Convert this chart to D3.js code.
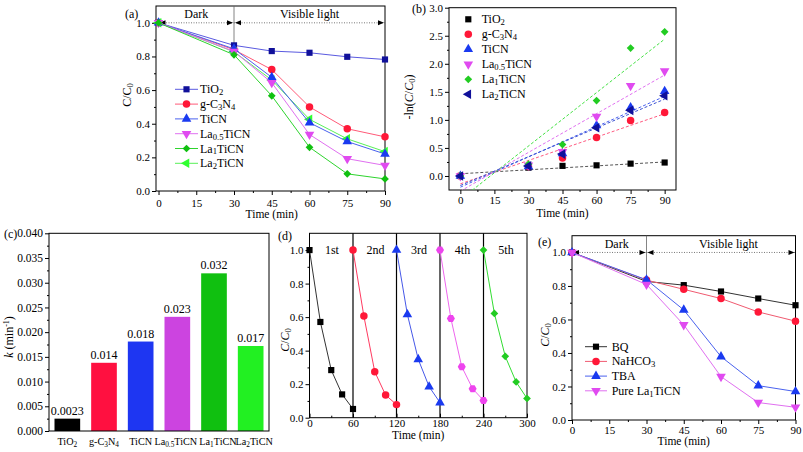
<!DOCTYPE html>
<html><head><meta charset="utf-8">
<script src="https://cdn.jsdelivr.net/npm/d3@7"></script>
<style>body{margin:0;background:#fff}svg{display:block;background:#fff}
text,tspan{font-family:"Liberation Serif","Times New Roman",serif}</style>
</head><body><svg id="c" width="803" height="452"></svg>
<script>
// ---------- DATA ----------
// Panel (a): C/C0 vs time
const timeA = [0, 30, 45, 60, 75, 90];
const namesA = ["TiO2", "g-C3N4", "TiCN", "La0.5TiCN", "La1TiCN", "La2TiCN"];
const tio2A  = [1.0, 0.866, 0.832, 0.822, 0.798, 0.782];
const gc3n4A = [1.0, 0.840, 0.722, 0.500, 0.370, 0.322];
const ticnA  = [1.0, 0.845, 0.676, 0.406, 0.294, 0.220];
const la05A  = [1.0, 0.830, 0.644, 0.336, 0.192, 0.152];
const la1A   = [1.0, 0.810, 0.566, 0.260, 0.102, 0.072];
const la2A   = [1.0, 0.828, 0.660, 0.426, 0.310, 0.234];

// Panel (b): -ln(C/C0) vs time, with linear fits (endpoints)
const timeB  = [0, 30, 45, 60, 75, 90];
const tio2B  = [0, 0.15, 0.18, 0.19, 0.22, 0.24];
const gc3n4B = [0, 0.17, 0.32, 0.685, 0.99, 1.13];
const ticnB  = [0, 0.17, 0.40, 0.90, 1.22, 1.51];
const la05B  = [0, 0.19, 0.43, 1.06, 1.61, 1.87];
const la1B   = [0, 0.21, 0.56, 1.345, 2.28, 2.57];
const la2B   = [0, 0.18, 0.39, 0.86, 1.17, 1.43];
const fitX     = [0, 90];
const fitTio2  = [0.04, 0.25];
const fitGc3n4 = [-0.14, 1.11];
const fitTicn  = [-0.20, 1.42];
const fitLa05  = [-0.27, 1.80];
const fitLa1   = [-0.42, 2.44];
const fitLa2   = [-0.17, 1.37];

// Panel (c): rate constants
const catsC   = ["TiO2", "g-C3N4", "TiCN", "La0.5TiCN", "La1TiCN", "La2TiCN"];
const kValues = [0.0025, 0.0138, 0.0181, 0.0231, 0.0319, 0.0172];
const kLabels = ["0.0023", "0.014", "0.018", "0.023", "0.032", "0.017"];

// Panel (d): recycling runs
const cycleNames = ["1st", "2nd", "3rd", "4th", "5th"];
const cycleStart = [0, 60, 120, 180, 240];
const cycleTime  = [0, 15, 30, 45, 60];
const cycle1 = [1.0, 0.571, 0.284, 0.139, 0.052];
const cycle2 = [1.0, 0.606, 0.274, 0.135, 0.078];
const cycle3 = [1.0, 0.616, 0.348, 0.185, 0.090];
const cycle4 = [1.0, 0.592, 0.304, 0.173, 0.103];
const cycle5 = [1.0, 0.622, 0.366, 0.213, 0.115];

// Panel (e): scavenger tests
const timeE = [0, 30, 45, 60, 75, 90];
const namesE = ["BQ", "NaHCO3", "TBA", "Pure La1TiCN"];
const bqE    = [1.0, 0.827, 0.805, 0.767, 0.725, 0.685];
const nahco3E= [1.0, 0.835, 0.780, 0.725, 0.645, 0.590];
const tbaE   = [1.0, 0.837, 0.657, 0.378, 0.205, 0.170];
const pureE  = [1.0, 0.809, 0.568, 0.259, 0.104, 0.076];

// Tick values
const ticksTime90 = [0, 15, 30, 45, 60, 75, 90];
const ticksC = [0, 0.2, 0.4, 0.6, 0.8, 1.0];
const ticksLn = [0, 0.5, 1.0, 1.5, 2.0, 2.5, 3.0];
const ticksK = [0, 0.005, 0.010, 0.015, 0.020, 0.025, 0.030, 0.035, 0.040];
const ticksTime300 = [0, 60, 120, 180, 240, 300];

// ---------- HELPERS ----------
const FONT = '"Liberation Serif","Times New Roman",serif';
const svg = d3.select("#c");

function rich(text, str, fs) {
  const parts = str.split(/(\d+(?:\.\d+)?)/);
  let shifted = false;
  parts.forEach((p, i) => {
    if (p === "") return;
    const t = text.append("tspan").text(p);
    if (i % 2 === 1) {
      t.attr("font-size", fs * 0.72);
      if (!shifted) { t.attr("dy", fs * 0.15); shifted = true; }
    } else if (shifted) { t.attr("dy", -fs * 0.15); shifted = false; }
  });
  return text;
}
function styleAxis(s, fs) {
  s.select(".domain").remove();
  s.attr("font-family", FONT).attr("font-size", fs);
  s.selectAll("line").attr("stroke", "#000");
  s.selectAll("text").attr("fill", "#000");
}
function minorOf(ticks) {
  const out = [];
  for (let i = 0; i < ticks.length - 1; i++) out.push((ticks[i] + ticks[i + 1]) / 2);
  return out;
}
function axes(g, x, y, box, xt, yt, xf, yf, fs, xpad) {
  if (xt) {
    g.append("g").attr("transform", `translate(0,${box.b})`)
      .call(d3.axisBottom(x).tickValues(xt).tickSize(4).tickPadding(xpad).tickFormat(xf))
      .call(s => styleAxis(s, fs));
    g.append("g").attr("transform", `translate(0,${box.b})`)
      .call(d3.axisBottom(x).tickValues(minorOf(xt)).tickSize(2).tickFormat(""))
      .call(s => styleAxis(s, fs));
  }
  g.append("g").attr("transform", `translate(${box.l},0)`)
    .call(d3.axisLeft(y).tickValues(yt).tickSize(4).tickPadding(2).tickFormat(yf))
    .call(s => styleAxis(s, fs));
  g.append("g").attr("transform", `translate(${box.l},0)`)
    .call(d3.axisLeft(y).tickValues(minorOf(yt)).tickSize(2).tickFormat(""))
    .call(s => styleAxis(s, fs));
  g.append("rect").attr("x", box.l).attr("y", box.t)
    .attr("width", box.r - box.l).attr("height", box.b - box.t)
    .attr("fill", "none").attr("stroke", "#000").attr("stroke-width", 1);
}
const hexagon = { draw(ctx, size) {
  const r = Math.sqrt(size / (1.5 * Math.sqrt(3)));
  for (let i = 0; i < 6; i++) {
    const a = Math.PI / 3 * i;
    const px = r * Math.cos(a), py = r * Math.sin(a);
    i ? ctx.lineTo(px, py) : ctx.moveTo(px, py);
  }
  ctx.closePath();
}};
function marker(g, type, cx, cy, color) {
  let sym = d3.symbolSquare, size = 38, rot = 0;
  if (type === "circle") { sym = d3.symbolCircle; size = 44; }
  if (type === "triUp") { sym = d3.symbolTriangle; size = 40; }
  if (type === "triDown") { sym = d3.symbolTriangle; size = 40; rot = 180; }
  if (type === "triLeft") { sym = d3.symbolTriangle; size = 40; rot = -90; }
  if (type === "diamond") { sym = d3.symbolSquare; size = 30; rot = 45; }
  if (type === "hexagon") { sym = hexagon; size = 42; }
  g.append("path").attr("d", d3.symbol(sym, size)())
    .attr("transform", `translate(${cx},${cy}) rotate(${rot})`)
    .attr("fill", color);
}
function series(g, x, y, xs, ys, lineColor, mColor, type) {
  g.append("path").datum(ys)
    .attr("d", d3.line().x((d, i) => x(xs[i])).y(d => y(d)))
    .attr("fill", "none").attr("stroke", lineColor).attr("stroke-width", 1);
  ys.forEach((v, i) => marker(g, type, x(xs[i]), y(v), mColor));
}
function arrowLine(g, xa, xb, yy) {
  g.append("line").attr("x1", xa).attr("x2", xb).attr("y1", yy).attr("y2", yy)
    .attr("stroke", "#555").attr("stroke-width", 0.8).attr("stroke-dasharray", "1,1.5");
  g.append("path").attr("d", `M${xa + 1},${yy}L${xa + 7},${yy - 2.5}L${xa + 7},${yy + 2.5}Z`).attr("fill", "#000");
  g.append("path").attr("d", `M${xb - 1},${yy}L${xb - 7},${yy - 2.5}L${xb - 7},${yy + 2.5}Z`).attr("fill", "#000");
}
function label(g, str, x, y, fs, anchor, extra) {
  const t = g.append("text").attr("x", x).attr("y", y).attr("font-size", fs)
    .attr("text-anchor", anchor || "start").attr("fill", "#000");
  if (extra) extra(t); else t.text(str);
  return t;
}
function ccLabel(t, italic) {
  t.append("tspan").attr("font-style", italic ? "italic" : null).text("C");
  t.append("tspan").text("/");
  t.append("tspan").attr("font-style", italic ? "italic" : null).text("C");
  t.append("tspan").attr("font-size", 8.5).attr("dy", 1.5).text("0");
}

// ---------- PANEL (a) ----------
{
  const box = { l: 156, r: 385, t: 6, b: 191 };
  const g = svg.append("g");
  const x = d3.scaleLinear().domain([-1, 90]).range([box.l, box.r]);
  const y = d3.scaleLinear().domain([0, 1.1]).range([box.b, box.t]);
  axes(g, x, y, box, ticksTime90, ticksC, d3.format("d"), d3.format(".1f"), 11, 4);
  g.append("line").attr("x1", x(30)).attr("x2", x(30)).attr("y1", box.t).attr("y2", y(0.862))
    .attr("stroke", "#666").attr("stroke-width", 0.8);
  arrowLine(g, x(0), x(30), y(1.0));
  arrowLine(g, x(30), x(90), y(1.0));
  label(g, "Dark", x(15), 18, 12, "middle");
  label(g, "Visible light", x(60), 18, 12, "middle");
  const all = [tio2A, gc3n4A, ticnA, la05A, la1A, la2A];
  const lc = ["#5a5ae0", "#ff5a78", "#4a62ee", "#e070f0", "#2ed42e", "#58f058"];
  const mc = ["#10109a", "#ff1838", "#1a3af0", "#e04af0", "#10c010", "#30ff30"];
  const mt = ["square", "circle", "triUp", "triDown", "diamond", "triLeft"];
  const order = [0, 1, 5, 2, 3, 4];
  order.forEach(i => series(g, x, y, timeA, all[i], lc[i], mc[i], mt[i]));
  namesA.forEach((n, i) => {
    const yy = 89.3 + 14.8 * i;
    g.append("line").attr("x1", 175).attr("x2", 198).attr("y1", yy).attr("y2", yy).attr("stroke", lc[i]);
    marker(g, mt[i], 186.5, yy, mc[i]);
    rich(g.append("text").attr("x", 200).attr("y", yy + 4).attr("font-size", 12), n, 12);
  });
  label(g, "(a)", 125, 18, 12);
  label(g, "", 0, 0, 12, "middle", t => ccLabel(t, false))
    .attr("transform", "translate(131,95) rotate(-90)").attr("x", null).attr("y", null);
  label(g, "Time (min)", x(45), 218, 11.5, "middle");
}

// ---------- PANEL (b) ----------
{
  const box = { l: 449, r: 676, t: 7.7, b: 190 };
  const g = svg.append("g");
  const x = d3.scaleLinear().domain([-5, 95]).range([box.l, box.r]);
  const y = d3.scaleLinear().domain([-0.25, 3.0]).range([box.b, box.t]);
  svg.append("defs").append("clipPath").attr("id", "clipB").append("rect")
    .attr("x", box.l).attr("y", box.t).attr("width", box.r - box.l).attr("height", box.b - box.t);
  axes(g, x, y, box, ticksTime90, ticksLn, d3.format("d"), d3.format(".1f"), 11, 2.5);
  const all = [tio2B, gc3n4B, ticnB, la05B, la1B, la2B];
  const fits = [fitTio2, fitGc3n4, fitTicn, fitLa05, fitLa1, fitLa2];
  const fc = ["#555555", "#ff5a80", "#4a62ee", "#e070f0", "#44e044", "#3a50d0"];
  const mc = ["#000000", "#ff1838", "#1a3af0", "#e04af0", "#22cc22", "#10109a"];
  const mt = ["square", "circle", "triUp", "triDown", "diamond", "triLeft"];
  const fg = g.append("g").attr("clip-path", "url(#clipB)");
  fits.forEach((f, i) => {
    fg.append("path").datum(f)
      .attr("d", d3.line().x((d, j) => x(fitX[j])).y(d => y(d)))
      .attr("fill", "none").attr("stroke", fc[i]).attr("stroke-width", 1).attr("stroke-dasharray", "3,2");
  });
  all.forEach((s, i) => s.forEach((v, j) => marker(g, mt[i], x(timeB[j]), y(v), mc[i])));
  namesA.forEach((n, i) => {
    const yy = 19.3 + 15 * i;
    marker(g, mt[i], 468.3, yy, mc[i]);
    rich(g.append("text").attr("x", 481.7).attr("y", yy + 4).attr("font-size", 12), n, 12);
  });
  label(g, "(b)", 412, 13, 12);
  const yl = g.append("text").attr("font-size", 12).attr("text-anchor", "middle")
    .attr("transform", "translate(413,97) rotate(-90)");
  yl.append("tspan").text("-ln(");
  ccLabel(yl, true);
  yl.append("tspan").attr("dy", -1.5).text(")");
  label(g, "Time (min)", x(45), 217, 11.5, "middle");
}

// ---------- PANEL (c) ----------
{
  const box = { l: 49, r: 269, t: 233.3, b: 431 };
  const g = svg.append("g");
  const x = d3.scaleBand().domain(catsC).range([box.l, box.r]).paddingInner(0.3).paddingOuter(0.15);
  const y = d3.scaleLinear().domain([0, 0.04]).range([box.b, box.t]);
  const colors = ["#000000", "#ff1040", "#1e36f2", "#cc44e0", "#10c010", "#22f022"];
  g.selectAll("rect.bar").data(kValues).join("rect").attr("class", "bar")
    .attr("x", (d, i) => x(catsC[i])).attr("width", x.bandwidth())
    .attr("y", d => y(d)).attr("height", d => y(0) - y(d))
    .attr("fill", (d, i) => colors[i]);
  axes(g, x, y, box, null, ticksK, null, d3.format(".3f"), 11.5, 2);
  kLabels.forEach((s, i) => label(g, s, x(catsC[i]) + x.bandwidth() / 2, y(kValues[i]) - 4, 12, "middle"));
  const nudge = [0, 0, 0, -1.5, 4, 3.5];
  catsC.forEach((c, i) => {
    rich(g.append("text").attr("x", x(c) + x.bandwidth() / 2 + nudge[i]).attr("y", 445).attr("font-size", 10.2)
      .attr("text-anchor", "middle"), c, 10.2);
  });
  label(g, "(c)", 4, 238, 12);
  const yl = g.append("text").attr("font-size", 12).attr("text-anchor", "middle")
    .attr("transform", "translate(13,337) rotate(-90)");
  yl.append("tspan").attr("font-style", "italic").text("k");
  yl.append("tspan").text(" (min");
  yl.append("tspan").attr("font-size", 8).attr("dy", -4).text("-1");
  yl.append("tspan").attr("dy", 4).text(")");
}

// ---------- PANEL (d) ----------
{
  const box = { l: 309.5, r: 527, t: 233.3, b: 417.7 };
  const g = svg.append("g");
  const x = d3.scaleLinear().domain([0, 300]).range([box.l, box.r]);
  const y = d3.scaleLinear().domain([0, 1.1]).range([box.b, box.t]);
  axes(g, x, y, box, null, ticksC, null, d3.format(".1f"), 11, 2);
  g.append("g").attr("transform", `translate(0,${box.b})`)
    .call(d3.axisBottom(x).tickValues(ticksTime300).tickSizeInner(-4).tickSizeOuter(0).tickPadding(1.5).tickFormat(d3.format("d")))
    .call(s => styleAxis(s, 11));
  g.append("g").attr("transform", `translate(0,${box.b})`)
    .call(d3.axisBottom(x).tickValues(minorOf(ticksTime300)).tickSizeInner(-2).tickSizeOuter(0).tickFormat(""))
    .call(s => styleAxis(s, 11));
  cycleStart.slice(1).forEach(s => g.append("line").attr("x1", x(s)).attr("x2", x(s))
    .attr("y1", box.t).attr("y2", box.b).attr("stroke", "#000").attr("stroke-width", 1.2));
  const all = [cycle1, cycle2, cycle3, cycle4, cycle5];
  const lc = ["#333333", "#ff3a60", "#4658e8", "#ee66ee", "#33dd33"];
  const mc = ["#000000", "#ff1838", "#1a3af0", "#ee44ee", "#22cc22"];
  const mt = ["square", "circle", "triUp", "hexagon", "diamond"];
  all.forEach((s, i) => {
    const xs = cycleTime.map(t => cycleStart[i] + t);
    series(g, x, y, xs, s, lc[i], mc[i], mt[i]);
    label(g, cycleNames[i], x(cycleStart[i] + 31), 254, 12, "middle");
  });
  label(g, "(d)", 278, 240, 12);
  label(g, "", 0, 0, 12, "middle", t => ccLabel(t, true))
    .attr("transform", "translate(289,340) rotate(-90)").attr("x", null).attr("y", null);
  label(g, "Time (min)", x(150), 439, 11.5, "middle");
}

// ---------- PANEL (e) ----------
{
  const box = { l: 572, r: 795.5, t: 235.7, b: 420 };
  const g = svg.append("g");
  const x = d3.scaleLinear().domain([0, 90]).range([box.l, box.r]);
  const y = d3.scaleLinear().domain([0, 1.1]).range([box.b, box.t]);
  axes(g, x, y, box, ticksTime90, ticksC, d3.format("d"), d3.format(".1f"), 11, 2.5);
  g.append("line").attr("x1", x(30)).attr("x2", x(30)).attr("y1", box.t).attr("y2", y(0.835))
    .attr("stroke", "#666").attr("stroke-width", 0.8);
  arrowLine(g, x(0), x(30), y(1.0));
  arrowLine(g, x(30), x(90), y(1.0));
  label(g, "Dark", x(18), 248, 12, "middle");
  label(g, "Visible light", x(63), 248, 12, "middle");
  const all = [bqE, nahco3E, tbaE, pureE];
  const lc = ["#333333", "#f05a70", "#4a62ee", "#e070f0"];
  const mc = ["#000000", "#ff1838", "#1a3af0", "#e04af0"];
  const mt = ["square", "circle", "triUp", "triDown"];
  all.forEach((s, i) => series(g, x, y, timeE, s, lc[i], mc[i], mt[i]));
  namesE.forEach((n, i) => {
    const yy = 346.7 + 14.7 * i;
    g.append("line").attr("x1", 585).attr("x2", 607).attr("y1", yy).attr("y2", yy).attr("stroke", lc[i]);
    marker(g, mt[i], 596, yy, mc[i]);
    rich(g.append("text").attr("x", 611.7).attr("y", yy + 4).attr("font-size", 12), n, 12);
  });
  label(g, "(e)", 538, 246, 12);
  label(g, "", 0, 0, 12, "middle", t => ccLabel(t, true))
    .attr("transform", "translate(549,335) rotate(-90)").attr("x", null).attr("y", null);
  label(g, "Time (min)", x(45), 445, 11.5, "middle");
}
</script></body></html>
